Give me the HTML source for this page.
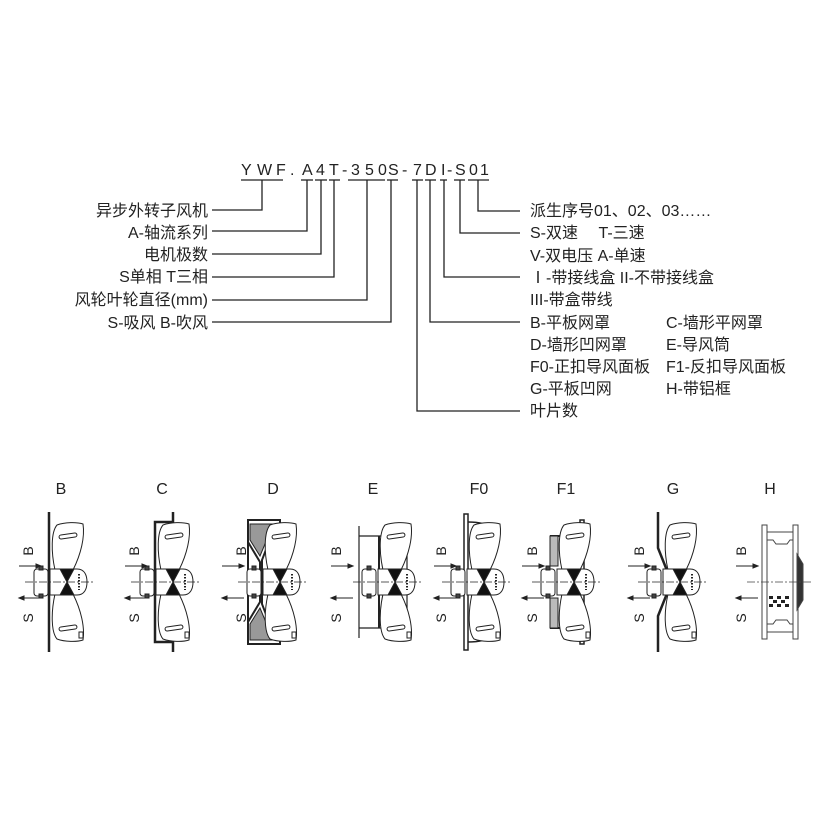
<!DOCTYPE html>
<html><head><meta charset="utf-8"><style>
body{margin:0;background:#fff}
svg{display:block}
text{font-family:"Liberation Sans","Noto Sans CJK SC",sans-serif;fill:#222}
.cn{font-size:16px}
</style></head><body>
<svg width="822" height="822" viewBox="0 0 822 822" xmlns="http://www.w3.org/2000/svg">
<defs>
<g id="fan" stroke="#222" fill="#fff" stroke-width="1">
  <path d="M6,-12 C2,-30 2,-50 8,-57 C16,-60 28,-60 34,-58 C36,-45 32,-28 24,-12 Z"/>
  <rect x="10" y="-48" width="18" height="4" rx="2" transform="rotate(-8 19 -46)"/>
  <path d="M6,12 C2,30 2,50 8,57 C16,60 28,60 34,58 C36,45 32,28 24,12 Z"/>
  <rect x="10" y="44" width="18" height="4" rx="2" transform="rotate(-8 19 46)"/>
  <rect x="30" y="50" width="4" height="6" fill="#fff"/>
  <rect x="-15" y="-13" width="14" height="27" rx="3"/>
  <rect x="-10" y="-16" width="4" height="4" fill="#444"/>
  <rect x="-10" y="12" width="4" height="4" fill="#444"/>
  <path d="M1,-13 H28 C36,-13 38,-6 38,0 C38,6 36,13 28,13 H1 Z"/>
  <path d="M11,-13 H25 L18,0 L25,13 H11 L18,0 Z" fill="#111"/>
  <line x1="30" y1="-8" x2="30" y2="8" stroke-dasharray="1.5 1.5" stroke-width="2"/>
  <line x1="-24" y1="0" x2="46" y2="0" stroke-dasharray="8 2 2 2" stroke-width="0.8"/>
</g>
<g id="bs" stroke="#222" fill="none" stroke-width="1">
  <line x1="-26" y1="-16" x2="-4" y2="-16"/><path d="M-4,-16 l-5,-2 v4 z" fill="#222"/>
  <line x1="-26" y1="16" x2="-4" y2="16"/><path d="M-26,16 l5,-2 v4 z" fill="#222"/>
</g>
</defs>

<g style="font-size:16px">
<text x="241" y="175">Y</text><text x="257" y="175">W</text><text x="276" y="175">F</text>
<text x="290" y="175">.</text>
<text x="302" y="175">A</text><text x="316" y="175">4</text><text x="329" y="175">T</text>
<text x="342" y="175">-</text>
<text x="351" y="175">3</text><text x="365" y="175">5</text><text x="378" y="175">0</text>
<text x="388" y="175">S</text><text x="402" y="175">-</text>
<text x="413" y="175">7</text><text x="425" y="175">D</text>
<text x="441" y="175">I</text><text x="447" y="175">-</text>
<text x="455" y="175">S</text><text x="469" y="175">0</text><text x="480" y="175">1</text>
</g>
<g stroke="#222" stroke-width="1.3" fill="none">
<line x1="241" y1="180" x2="283" y2="180"/>
<line x1="301" y1="180" x2="313" y2="180"/><line x1="315" y1="180" x2="327" y2="180"/><line x1="329" y1="180" x2="340" y2="180"/>
<line x1="348" y1="180" x2="385" y2="180"/><line x1="387" y1="180" x2="398" y2="180"/>
<line x1="412" y1="180" x2="423" y2="180"/><line x1="425" y1="180" x2="436" y2="180"/><line x1="440" y1="180" x2="447" y2="180"/>
<line x1="454" y1="180" x2="465" y2="180"/><line x1="468" y1="180" x2="489" y2="180"/>
<polyline points="262,180 262,210 212,210"/>
<polyline points="307,180 307,231 212,231"/>
<polyline points="321,180 321,254 212,254"/>
<polyline points="334,180 334,277 212,277"/>
<polyline points="367,180 367,300 212,300"/>
<polyline points="391,180 391,322 212,322"/>
<polyline points="417,180 417,411 520,411"/>
<polyline points="430,180 430,322 520,322"/>
<polyline points="444,180 444,277 520,277"/>
<polyline points="460,180 460,233 520,233"/>
<polyline points="478,180 478,211 520,211"/>
</g>
<g class="cn" text-anchor="end">
<text x="208" y="216">异步外转子风机</text>
<text x="208" y="238">A-轴流系列</text>
<text x="208" y="260">电机极数</text>
<text x="208" y="282">S单相 T三相</text>
<text x="208" y="305">风轮叶轮直径(mm)</text>
<text x="208" y="328">S-吸风 B-吹风</text>
</g>
<g class="cn">
<text x="530" y="216">派生序号01、02、03……</text>
<text x="530" y="238">S-双速　 T-三速</text>
<text x="530" y="261">V-双电压 A-单速</text>
<text x="530" y="283"> Ⅰ-带接线盒 II-不带接线盒</text>
<text x="530" y="305">III-带盒带线</text>
<text x="530" y="328">B-平板网罩</text><text x="666" y="328">C-墙形平网罩</text>
<text x="530" y="350">D-墙形凹网罩</text><text x="666" y="350">E-导风筒</text>
<text x="530" y="372">F0-正扣导风面板</text><text x="666" y="372">F1-反扣导风面板</text>
<text x="530" y="394">G-平板凹网</text><text x="666" y="394">H-带铝框</text>
<text x="530" y="416">叶片数</text>
</g>

<g font-size="16" text-anchor="middle">
<text x="61" y="494">B</text><text x="162" y="494">C</text><text x="273" y="494">D</text><text x="373" y="494">E</text>
<text x="479" y="494">F0</text><text x="566" y="494">F1</text><text x="673" y="494">G</text><text x="770" y="494">H</text>
</g>

<g transform="translate(49,582)">
<line x1="0" y1="-70" x2="0" y2="70" stroke="#222" stroke-width="2.5"/>
<use href="#fan"/><use href="#bs" transform="translate(-4,0)"/>
</g>
<g transform="translate(155,582)" stroke="#222" fill="none" stroke-width="2.5">
<polyline points="18,-70 18,-60 0,-60 0,60 18,60 18,70"/>
<use href="#fan"/><use href="#bs" transform="translate(-4,0)"/>
</g>
<g transform="translate(262,582)" stroke="#222" fill="none" stroke-width="2">
<path d="M-14,-62 H18 V-48 H10 L0,-22 V22 L10,48 H18 V62 H-14 V-40 L-2,-20 V20 L-14,40 Z" fill="#fff"/>
<path d="M-12,-58 H16 V-50 H8 L-2,-26 L-12,-42 Z M-12,58 H16 V50 H8 L-2,26 L-12,42 Z" fill="#999" stroke-width="1"/>
<use href="#fan"/><use href="#bs" transform="translate(-14,0)"/>
</g>
<g transform="translate(377,582)" stroke="#222" fill="none" stroke-width="1.2">
<line x1="-18" y1="-56" x2="-18" y2="56"/><line x1="30" y1="-56" x2="30" y2="56"/>
<line x1="-18" y1="-46" x2="30" y2="-46"/><line x1="-18" y1="46" x2="30" y2="46"/>
<line x1="2" y1="-46" x2="2" y2="46" stroke-width="2"/>
<use href="#fan"/><use href="#bs" transform="translate(-20,0)"/>
</g>
<g transform="translate(466,582)" stroke="#222" fill="none" stroke-width="1.5">
<rect x="-2" y="-68" width="4" height="136" fill="#fff"/>
<path d="M2,-60 C14,-60 20,-58 26,-54 M2,60 C14,60 20,58 26,54"/>
<use href="#fan"/><use href="#bs" transform="translate(-6,0)"/>
</g>
<g transform="translate(556,582)" stroke="#222" fill="none" stroke-width="1.5">
<rect x="24" y="-62" width="4" height="124" fill="#fff"/>
<path d="M-6,-46 H12 V-52 H24 M-6,46 H12 V52 H24" stroke-width="2"/>
<rect x="-6" y="-46" width="8" height="30" fill="#bbb" stroke-width="1"/>
<rect x="-6" y="16" width="8" height="30" fill="#bbb" stroke-width="1"/>
<use href="#fan"/><use href="#bs" transform="translate(-8,0)"/>
</g>
<g transform="translate(662,582)" stroke="#222" fill="none" stroke-width="2.5">
<polyline points="-4,-70 -4,-34 4,-14 4,14 -4,34 -4,70"/>
<use href="#fan"/><use href="#bs" transform="translate(-8,0)"/>
</g>
<g transform="translate(765,582)" stroke="#444" fill="none" stroke-width="1">
<rect x="-3" y="-57" width="5" height="114"/>
<rect x="28" y="-57" width="5" height="114"/>
<line x1="2" y1="-50" x2="28" y2="-50"/><line x1="2" y1="50" x2="28" y2="50"/>
<path d="M2,-42 H8 L11,-38 H22 L25,-42 H28 M2,42 H8 L11,38 H22 L25,42 H28"/>
<path d="M32,-28 L38,-18 V18 L32,28 Z" fill="#333"/>
<g fill="#222" stroke="none">
<rect x="4" y="14" width="4" height="3"/><rect x="12" y="14" width="4" height="3"/><rect x="20" y="14" width="4" height="3"/>
<rect x="8" y="18" width="4" height="3"/><rect x="16" y="18" width="4" height="3"/>
<rect x="4" y="22" width="4" height="3"/><rect x="12" y="22" width="4" height="3"/><rect x="20" y="22" width="4" height="3"/>
</g>
<line x1="-18" y1="0" x2="48" y2="0" stroke-dasharray="8 2 2 2" stroke-width="0.8"/>
<use href="#bs" transform="translate(-3,0)"/>
</g>
<g font-size="14" text-anchor="middle">
<text transform="translate(33,551) rotate(-90)">B</text><text transform="translate(33,618) rotate(-90)">S</text>
<text transform="translate(139,551) rotate(-90)">B</text><text transform="translate(139,618) rotate(-90)">S</text>
<text transform="translate(246,551) rotate(-90)">B</text><text transform="translate(246,618) rotate(-90)">S</text>
<text transform="translate(341,551) rotate(-90)">B</text><text transform="translate(341,618) rotate(-90)">S</text>
<text transform="translate(446,551) rotate(-90)">B</text><text transform="translate(446,618) rotate(-90)">S</text>
<text transform="translate(537,551) rotate(-90)">B</text><text transform="translate(537,618) rotate(-90)">S</text>
<text transform="translate(644,551) rotate(-90)">B</text><text transform="translate(644,618) rotate(-90)">S</text>
<text transform="translate(746,551) rotate(-90)">B</text><text transform="translate(746,618) rotate(-90)">S</text>
</g>
</svg>
</body></html>
